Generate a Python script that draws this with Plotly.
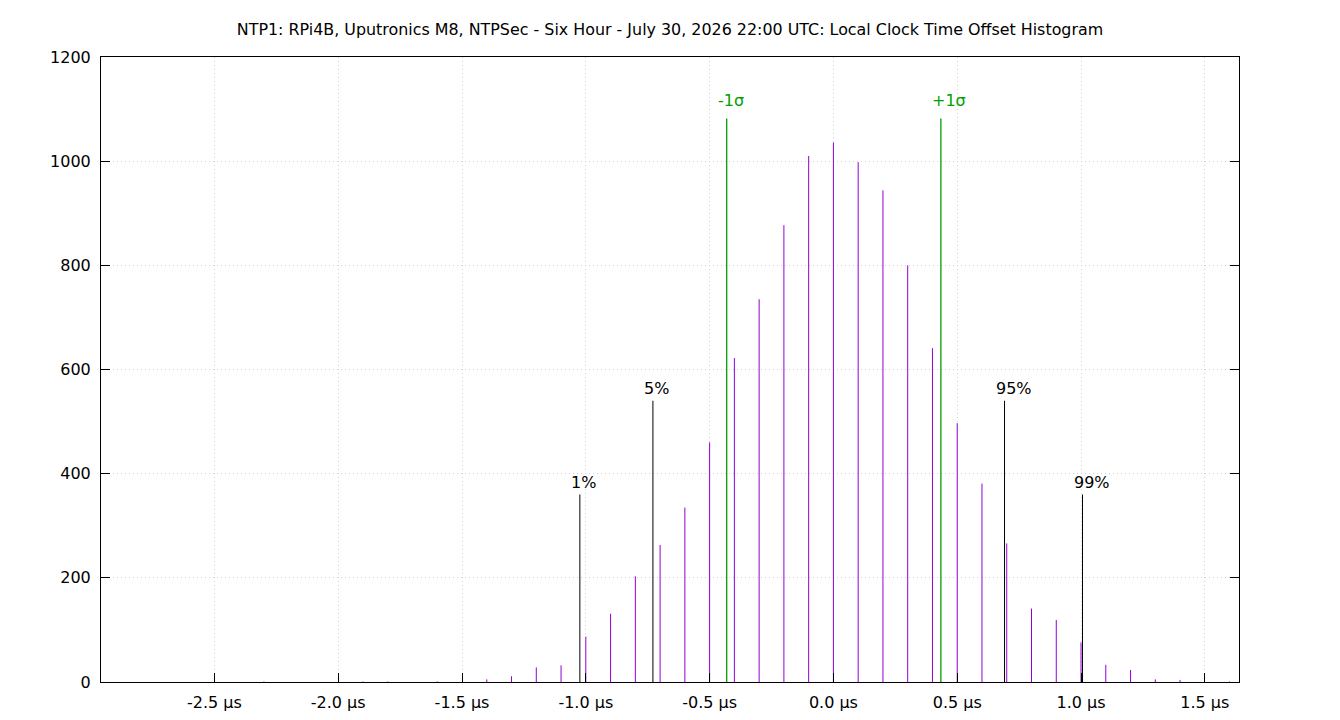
import plotly.graph_objects as go

# Histogram data (offset in microseconds, count)
offsets = [-2.3, -1.9, -1.8, -1.6, -1.4, -1.3, -1.2, -1.1, -1.0, -0.9, -0.8, -0.7,
           -0.6, -0.5, -0.4, -0.3, -0.2, -0.1, 0.0, 0.1, 0.2, 0.3, 0.4, 0.5, 0.6,
           0.7, 0.8, 0.9, 1.0, 1.1, 1.2, 1.3, 1.4, 1.6]
counts = [1, 1, 1, 1, 5, 11, 28, 32, 87, 131, 203, 263,
          335, 460, 622, 735, 877, 1010, 1036, 998, 944, 800, 641, 497, 381,
          266, 141, 119, 76, 33, 23, 5, 4, 1]

# Percentile markers
pct_x = [-1.024, -0.729, 0.691, 1.006]
pct_h = [360, 540, 540, 360]
pct_labels = ["1%", "5%", "95%", "99%"]

# Sigma markers
sig_x = [-0.431, 0.434]
sig_h = [1082, 1082]
sig_labels = ["-1σ", "+1σ"]

x_ticks = [-2.5, -2.0, -1.5, -1.0, -0.5, 0.0, 0.5, 1.0, 1.5]
x_tick_labels = ["-2.5 µs", "-2.0 µs", "-1.5 µs", "-1.0 µs", "-0.5 µs",
                 "0.0 µs", "0.5 µs", "1.0 µs", "1.5 µs"]
y_ticks = [0, 200, 400, 600, 800, 1000, 1200]

PURPLE = "#9400d3"
GREEN = "#00a000"
FONT = "DejaVu Sans, sans-serif"
FS = 16
GRID = "#d0d0d0"


def impulses(xs, hs):
    X, Y = [], []
    for x, h in zip(xs, hs):
        X += [x, x, None]
        Y += [0, h, None]
    return X, Y


fig = go.Figure()
bx, by = impulses(offsets, counts)
fig.add_trace(go.Scatter(x=bx, y=by, mode="lines", line=dict(color=PURPLE, width=1),
                         hoverinfo="skip", showlegend=False))
px_, py_ = impulses(pct_x, pct_h)
fig.add_trace(go.Scatter(x=px_, y=py_, mode="lines", line=dict(color="black", width=1),
                         hoverinfo="skip", showlegend=False))
sx, sy = impulses(sig_x, sig_h)
fig.add_trace(go.Scatter(x=sx, y=sy, mode="lines", line=dict(color=GREEN, width=1.3),
                         hoverinfo="skip", showlegend=False))

annotations = []
for x, h, t in zip(pct_x, pct_h, pct_labels):
    annotations.append(dict(x=x, y=h, text=t, showarrow=False, xanchor="left",
                            yanchor="bottom", xshift=-11, yshift=1,
                            font=dict(family=FONT, size=FS, color="black")))
for x, h, t in zip(sig_x, sig_h, sig_labels):
    annotations.append(dict(x=x, y=h, text=t, showarrow=False, xanchor="left",
                            yanchor="bottom", xshift=-11, yshift=6,
                            font=dict(family=FONT, size=FS, color=GREEN)))

fig.update_layout(
    width=1340, height=720,
    margin=dict(l=101, r=101, t=57, b=38, pad=0, autoexpand=False),
    paper_bgcolor="white", plot_bgcolor="white",
    font=dict(family=FONT, size=FS, color="black"),
    title=dict(text="NTP1: RPi4B, Uputronics M8, NTPSec - Six Hour - July 30, 2026 22:00 UTC: Local Clock Time Offset Histogram",
               x=0.5, xanchor="center", y=1 - 29 / 720, yanchor="middle",
               font=dict(family=FONT, size=15.9, color="black")),
    annotations=annotations,
    showlegend=False,
)
fig.update_xaxes(range=[-2.958, 1.638], tickmode="array", tickvals=x_ticks,
                 ticktext=x_tick_labels, ticks="inside", ticklen=9, tickcolor="black",
                 showline=True, linecolor="black", linewidth=1, mirror=True,
                 showgrid=True, gridcolor=GRID, griddash="1px,3px", gridwidth=1,
                 zeroline=False, ticklabelstandoff=6, automargin=False)
fig.update_yaxes(range=[0, 1200], tickmode="array", tickvals=y_ticks,
                 ticks="inside", ticklen=9, tickcolor="black",
                 showline=True, linecolor="black", linewidth=1, mirror="ticks",
                 showgrid=True, gridcolor=GRID, griddash="1px,3px", gridwidth=1,
                 zeroline=False, ticklabelstandoff=6, automargin=False)

fig.write_html("out.html")
